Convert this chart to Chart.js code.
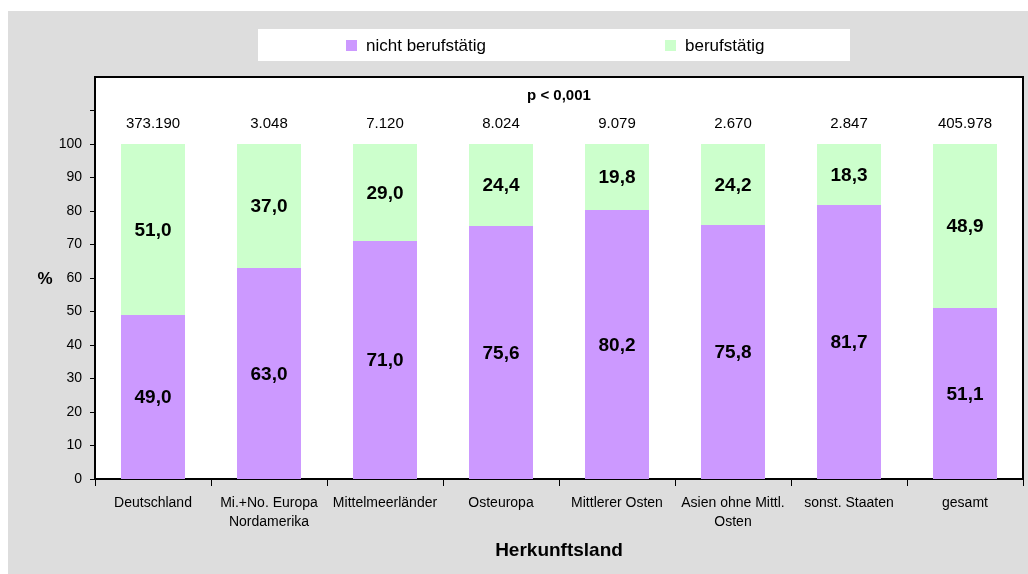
<!DOCTYPE html>
<html lang="de">
<head>
<meta charset="utf-8">
<title>Berufstätigkeit nach Herkunftsland</title>
<script src="https://cdn.jsdelivr.net/npm/chart.js@4/dist/chart.umd.min.js"></script>
<style>
  html, body { margin: 0; padding: 0; background: #ffffff; }
  #wrap { width: 1028px; height: 574px; }
</style>
</head>
<body>
<div id="wrap"><canvas id="chart" width="1028" height="574"></canvas></div>
<script>
// Herkunftsländer (x-axis categories)
const categories = [
  'Deutschland',
  ['Mi.+No. Europa', 'Nordamerika'],
  'Mittelmeerländer',
  'Osteuropa',
  'Mittlerer Osten',
  ['Asien ohne Mittl.', 'Osten'],
  'sonst. Staaten',
  'gesamt'
];
// Anteile in %
const nichtBerufstaetig = [49.0, 63.0, 71.0, 75.6, 80.2, 75.8, 81.7, 51.1];
const berufstaetig      = [51.0, 37.0, 29.0, 24.4, 19.8, 24.2, 18.3, 48.9];
// Fallzahlen je Gruppe
const fallzahlen = ['373.190', '3.048', '7.120', '8.024', '9.079', '2.670', '2.847', '405.978'];
// y-axis ticks
const yTicks = [0, 10, 20, 30, 40, 50, 60, 70, 80, 90, 100];
const signifikanz = 'p < 0,001';

const FONT = '"Liberation Sans", Arial, Helvetica, sans-serif';
const PURPLE = '#cc99ff';
const GREEN = '#ccffcc';
const PANEL = '#dddddd';

const fmt = v => v.toFixed(1).replace('.', ',');

// Grey panel, white plot area, frame around the plot
const framePlugin = {
  id: 'frame',
  beforeDraw(chart) {
    const ctx = chart.ctx;
    const a = chart.chartArea;
    ctx.save();
    ctx.fillStyle = '#ffffff';
    ctx.fillRect(0, 0, chart.width, chart.height);
    ctx.fillStyle = PANEL;
    ctx.fillRect(8, 11, chart.width - 8, chart.height - 11);
    ctx.fillStyle = '#ffffff';
    ctx.fillRect(a.left, a.top, a.right - a.left, a.bottom - a.top);
    ctx.restore();
  },
  afterDraw(chart) {
    const ctx = chart.ctx;
    const a = chart.chartArea;
    ctx.save();
    ctx.strokeStyle = '#000000';
    ctx.lineWidth = 2;
    ctx.beginPath();
    ctx.moveTo(a.left, a.top);
    ctx.lineTo(a.right, a.top);
    ctx.lineTo(a.right, a.bottom);
    ctx.stroke();
    ctx.restore();
  }
};

// Snap bar edges to whole pixels so stacked segments meet without a seam
const snapBarsPlugin = {
  id: 'snapBars',
  afterDatasetsUpdate(chart) {
    chart.data.datasets.forEach((ds, i) => {
      chart.getDatasetMeta(i).data.forEach(bar => {
        const w = Math.round(bar.width);
        const left = Math.round(bar.x - bar.width / 2);
        bar.width = w;
        bar.x = left + w / 2;
        bar.y = Math.round(bar.y);
        bar.base = Math.round(bar.base);
      });
    });
  }
};

// Legend box on the grey panel, built from the datasets
const legendBoxPlugin = {
  id: 'legendBox',
  afterDraw(chart) {
    const ctx = chart.ctx;
    const box = { x: 258, y: 29, w: 592, h: 32 };
    const entries = [{ mx: 346 }, { mx: 665 }];
    ctx.save();
    ctx.fillStyle = '#ffffff';
    ctx.fillRect(box.x, box.y, box.w, box.h);
    ctx.font = '17px ' + FONT;
    ctx.textBaseline = 'middle';
    ctx.textAlign = 'left';
    chart.data.datasets.forEach((ds, i) => {
      const e = entries[i];
      ctx.fillStyle = ds.backgroundColor;
      ctx.fillRect(e.mx, 40, 11, 11);
      ctx.fillStyle = '#000000';
      ctx.fillText(ds.label, e.mx + 20, 46);
    });
    ctx.restore();
  }
};

// Values inside the segments, group sizes above the bars, significance note, "%" label
const labelsPlugin = {
  id: 'labels',
  afterDatasetsDraw(chart) {
    const ctx = chart.ctx;
    const a = chart.chartArea;
    ctx.save();
    ctx.textAlign = 'center';
    ctx.textBaseline = 'middle';
    ctx.fillStyle = '#000000';
    ctx.font = 'bold 19px ' + FONT;
    chart.data.datasets.forEach((ds, i) => {
      const meta = chart.getDatasetMeta(i);
      meta.data.forEach((bar, j) => {
        const p = bar.getProps(['x', 'y', 'base'], true);
        ctx.fillText(fmt(ds.data[j]), p.x, (p.y + p.base) / 2 + 1);
      });
    });
    const xs = chart.scales.x;
    ctx.font = '15px ' + FONT;
    fallzahlen.forEach((n, j) => {
      ctx.fillText(n, xs.getPixelForValue(j), 124);
    });
    ctx.font = 'bold 15px ' + FONT;
    ctx.fillText(signifikanz, (a.left + a.right) / 2, 96);
    ctx.font = 'bold 17px ' + FONT;
    ctx.fillText('%', 45, (a.top + a.bottom) / 2 + 1);
    ctx.restore();
  }
};

new Chart(document.getElementById('chart'), {
  type: 'bar',
  data: {
    labels: categories,
    datasets: [
      { label: 'nicht berufstätig', data: nichtBerufstaetig, backgroundColor: PURPLE,
        borderWidth: 0, inflateAmount: 0, categoryPercentage: 1.0, barPercentage: 0.55 },
      { label: 'berufstätig', data: berufstaetig, backgroundColor: GREEN,
        borderWidth: 0, inflateAmount: 0, categoryPercentage: 1.0, barPercentage: 0.55 }
    ]
  },
  options: {
    responsive: false,
    animation: false,
    devicePixelRatio: 1,
    layout: { padding: { top: 77, right: 5, bottom: 0, left: 0 } },
    plugins: {
      legend: { display: false },
      tooltip: { enabled: false },
      title: { display: false }
    },
    scales: {
      x: {
        stacked: true,
        afterFit(scale) { scale.height = 95; },
        grid: {
          offset: true,
          drawOnChartArea: false,
          drawTicks: true,
          tickLength: 7,
          color: '#000000',
          lineWidth: 1
        },
        border: { display: true, color: '#000000', width: 2 },
        ticks: {
          color: '#000000',
          font: { family: FONT, size: 14, lineHeight: 1.33 },
          padding: 8,
          maxRotation: 0,
          autoSkip: false
        },
        title: {
          display: true,
          text: 'Herkunftsland',
          color: '#000000',
          font: { family: FONT, size: 19, weight: 'bold', lineHeight: 1.2 },
          padding: { top: 0, bottom: 12 }
        }
      },
      y: {
        stacked: true,
        min: 0,
        max: 120,
        afterFit(scale) { scale.width = 95; },
        afterBuildTicks(scale) {
          const ticks = [];
          for (let v = 0; v <= 110; v += 10) ticks.push({ value: v });
          scale.ticks = ticks;
        },
        grid: {
          drawOnChartArea: false,
          drawTicks: true,
          tickLength: 5,
          color: '#000000',
          lineWidth: 1
        },
        border: { display: true, color: '#000000', width: 2 },
        ticks: {
          color: '#000000',
          font: { family: FONT, size: 14 },
          padding: 8,
          callback: v => (yTicks.includes(v) ? String(v) : '')
        }
      }
    }
  },
  plugins: [framePlugin, snapBarsPlugin, legendBoxPlugin, labelsPlugin]
});
</script>
</body>
</html>
